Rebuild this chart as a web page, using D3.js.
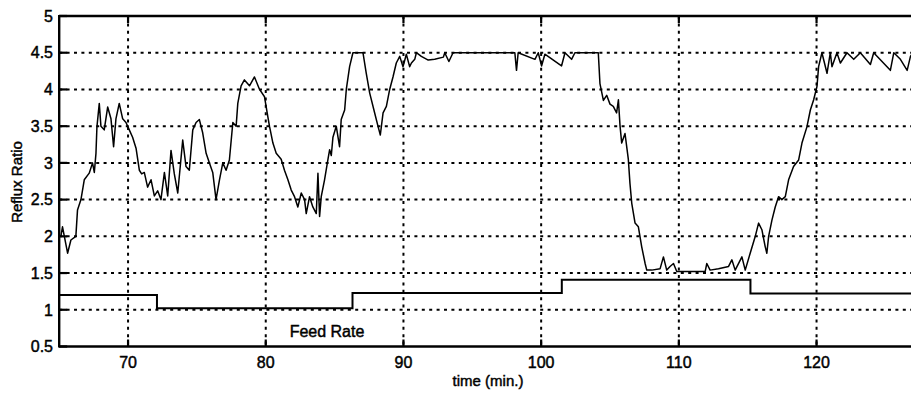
<!DOCTYPE html>
<html>
<head>
<meta charset="utf-8">
<script src="https://cdn.jsdelivr.net/npm/d3@7/dist/d3.min.js"></script>
<style>
  html, body { margin: 0; padding: 0; background: #fff; }
  svg { display: block; font-family: "Liberation Sans", Arial, sans-serif; }
  text { stroke: #000; stroke-width: 0.45px; paint-order: stroke; }
</style>
</head>
<body>
<div id="chart"></div>
<script>
// ---------------- data ----------------
const xTicks = [70, 80, 90, 100, 110, 120];
const xTickLabels = ["70", "80", "90", "100", "110", "120"];
const yTicks = [0.5, 1, 1.5, 2, 2.5, 3, 3.5, 4, 4.5, 5];
const yTickLabels = ["0.5", "1", "1.5", "2", "2.5", "3", "3.5", "4", "4.5", "5"];

const refluxTime = [
  65.12, 65.24, 65.61, 65.85, 66.21, 66.33, 66.58, 66.82, 67.18, 67.42,
  67.55, 67.67, 67.74, 67.91, 68.03, 68.27, 68.52, 68.76, 68.95, 69.12,
  69.36, 69.61, 69.85, 70.09, 70.33, 70.58, 70.82, 70.99, 71.18, 71.42,
  71.67, 71.91, 72.15, 72.39, 72.64, 72.88, 73.12, 73.36, 73.61, 73.97,
  74.21, 74.45, 74.70, 74.94, 75.18, 75.42, 75.67, 75.91, 76.15, 76.39,
  76.64, 76.88, 77.12, 77.36, 77.61, 77.85, 77.97, 78.21, 78.45, 78.82,
  79.18, 79.55, 79.91, 80.15, 80.27, 80.52, 80.76, 81.12, 81.36, 81.61,
  81.85, 82.09, 82.33, 82.58, 82.82, 82.94, 83.18, 83.42, 83.67, 83.79,
  83.91, 84.03, 84.27, 84.52, 84.64, 84.76, 84.88, 85.12, 85.36, 85.48,
  85.73, 85.85, 86.09, 86.33, 87.06, 87.30, 87.55, 87.91, 88.15, 88.32,
  88.52, 88.76, 89.00, 89.24, 89.48, 89.73, 89.97, 90.21, 90.45, 90.58,
  90.82, 90.94, 91.30, 91.80, 92.27, 92.90, 93.00, 93.30, 93.60, 98.09,
  98.21, 98.33, 99.55, 99.79, 100.03, 100.27, 101.48, 101.73, 102.21, 102.45,
  104.03, 104.15, 104.27, 104.52, 104.76, 105.00, 105.24, 105.48, 105.61, 105.73,
  105.85, 106.09, 106.33, 106.45, 106.58, 106.82, 107.06, 107.30, 107.55, 107.67,
  108.03, 108.64, 108.88, 109.12, 109.36, 109.61, 109.85, 110.45, 111.91, 112.03,
  112.27, 112.88, 113.61, 113.85, 114.09, 114.58, 114.82, 115.18, 115.55, 115.79,
  116.03, 116.27, 116.39, 116.52, 116.76, 117.00, 117.24, 117.48, 117.73, 117.97,
  118.33, 118.70, 118.94, 119.30, 119.55, 119.79, 120.03, 120.15, 120.39, 120.76,
  121.00, 121.12, 121.48, 121.73, 122.21, 122.70, 123.18, 123.91, 124.15, 125.36,
  125.61, 126.09, 126.58, 126.82, 127.00
];
const refluxValue = [
  2.00, 2.13, 1.77, 1.95, 2.00, 2.36, 2.50, 2.77, 2.86, 3.00,
  2.87, 3.13, 3.49, 3.81, 3.50, 3.45, 3.76, 3.60, 3.22, 3.60,
  3.81, 3.60, 3.55, 3.45, 3.35, 3.20, 2.90, 2.85, 2.87, 2.67,
  2.77, 2.55, 2.62, 2.50, 2.87, 2.55, 3.17, 2.85, 2.59, 3.31,
  2.95, 2.90, 3.45, 3.55, 3.59, 3.41, 3.13, 3.00, 2.87, 2.50,
  2.77, 3.00, 2.90, 3.04, 3.55, 3.50, 3.81, 4.05, 4.13, 4.05,
  4.17, 4.00, 3.90, 3.63, 3.50, 3.27, 3.13, 3.05, 2.90, 2.77,
  2.63, 2.54, 2.40, 2.59, 2.50, 2.31, 2.54, 2.40, 2.31, 2.86,
  2.27, 2.54, 2.77, 3.05, 3.18, 3.10, 3.35, 3.50, 3.22, 3.59,
  3.72, 4.00, 4.31, 4.50, 4.50, 4.22, 3.95, 3.68, 3.50, 3.38,
  3.68, 3.77, 4.00, 4.17, 4.36, 4.45, 4.31, 4.48, 4.31, 4.36,
  4.41, 4.50, 4.45, 4.40, 4.41, 4.44, 4.50, 4.38, 4.50, 4.50,
  4.26, 4.50, 4.41, 4.50, 4.32, 4.48, 4.32, 4.50, 4.41, 4.50,
  4.50, 4.50, 4.08, 3.85, 3.92, 3.80, 3.77, 3.68, 3.86, 3.50,
  3.27, 3.40, 3.05, 2.72, 2.45, 2.18, 2.13, 1.86, 1.63, 1.54,
  1.54, 1.56, 1.72, 1.54, 1.59, 1.63, 1.52, 1.52, 1.52, 1.63,
  1.54, 1.56, 1.59, 1.68, 1.54, 1.72, 1.54, 1.77, 2.00, 2.18,
  2.09, 1.86, 1.77, 2.00, 2.22, 2.40, 2.54, 2.50, 2.54, 2.77,
  2.95, 3.04, 3.27, 3.49, 3.72, 3.86, 4.04, 4.31, 4.50, 4.22,
  4.50, 4.31, 4.50, 4.36, 4.50, 4.41, 4.50, 4.34, 4.50, 4.26,
  4.50, 4.41, 4.26, 4.45, 4.50
];

const feedTime  = [65, 72.1, 72.1, 86.3, 86.3, 101.5, 101.5, 115.2, 115.2, 127];
const feedValue = [1.2, 1.2, 1.02, 1.02, 1.23, 1.23, 1.41, 1.41, 1.22, 1.22];

const xLabel = "time (min.)";
const yLabel = "Reflux Ratio";
const seriesLabel = "Feed Rate";

// ---------------- layout ----------------
const W = 911, H = 396;
const x = d3.scaleLinear().domain([65, 127]).range([59.2, 59.2 + 62 * 13.77]);
const y = d3.scaleLinear().domain([0.5, 5]).range([346.5, 16]);

const svg = d3.select("#chart").append("svg")
  .attr("width", W).attr("height", H);

svg.append("rect").attr("width", W).attr("height", H).attr("fill", "#fff");

const plotL = x(65), plotR = W + 5, plotT = y(5), plotB = y(0.5);

// grid lines (dotted)
const grid = svg.append("g").attr("stroke", "#000").attr("stroke-width", 2)
  .attr("stroke-dasharray", "3,4.4").attr("fill", "none");
yTicks.filter(v => v > 0.5 && v < 5).forEach(v => {
  grid.append("line").attr("x1", plotL).attr("x2", plotR)
    .attr("y1", y(v)).attr("y2", y(v));
});
xTicks.forEach(v => {
  grid.append("line").attr("x1", x(v)).attr("x2", x(v))
    .attr("y1", plotT).attr("y2", plotB);
});

// tick marks (inward, solid)
const ticks = svg.append("g").attr("stroke", "#000").attr("stroke-width", 2.2);
yTicks.forEach(v => {
  ticks.append("line").attr("x1", plotL).attr("x2", plotL + 8)
    .attr("y1", y(v)).attr("y2", y(v));
});
xTicks.forEach(v => {
  ticks.append("line").attr("x1", x(v)).attr("x2", x(v))
    .attr("y1", plotB).attr("y2", plotB - 7);
  ticks.append("line").attr("x1", x(v)).attr("x2", x(v))
    .attr("y1", plotT).attr("y2", plotT + 7);
});

// feed rate line
const line = d3.line().x((d) => x(d[0])).y((d) => y(d[1]));
svg.append("path")
  .datum(feedTime.map((t, i) => [t, feedValue[i]]))
  .attr("d", line).attr("fill", "none").attr("stroke", "#000").attr("stroke-width", 2);

// reflux ratio line
svg.append("path")
  .datum(refluxTime.map((t, i) => [t, refluxValue[i]]))
  .attr("d", line).attr("fill", "none").attr("stroke", "#000").attr("stroke-width", 1.5)
  .attr("stroke-linejoin", "round");

// axis frame lines
const frame = svg.append("g").attr("stroke", "#000").attr("stroke-width", 2.4);
frame.append("line").attr("x1", plotL).attr("x2", plotL).attr("y1", plotT - 1).attr("y2", plotB + 1);
frame.append("line").attr("x1", plotL).attr("x2", plotR).attr("y1", plotT).attr("y2", plotT);
frame.append("line").attr("x1", plotL).attr("x2", plotR).attr("y1", plotB).attr("y2", plotB);

// tick labels
const yl = svg.append("g").attr("font-size", 16).attr("text-anchor", "end").attr("fill", "#000");
yTicks.forEach((v, i) => {
  yl.append("text").attr("x", 53).attr("y", y(v)).attr("dy", "0.36em").text(yTickLabels[i]);
});
const xl = svg.append("g").attr("font-size", 16).attr("text-anchor", "middle").attr("fill", "#000");
xTicks.forEach((v, i) => {
  xl.append("text").attr("x", x(v)).attr("y", 368).text(xTickLabels[i]);
});

// axis labels
svg.append("text").attr("x", 488).attr("y", 386).attr("text-anchor", "middle")
  .attr("font-size", 15).text(xLabel);
svg.append("text").attr("transform", "translate(22,182) rotate(-90)")
  .attr("text-anchor", "middle").attr("font-size", 15).text(yLabel);

// series label
svg.append("text").attr("x", 327).attr("y", 337).attr("text-anchor", "middle")
  .attr("font-size", 16).text(seriesLabel);
</script>
</body>
</html>
